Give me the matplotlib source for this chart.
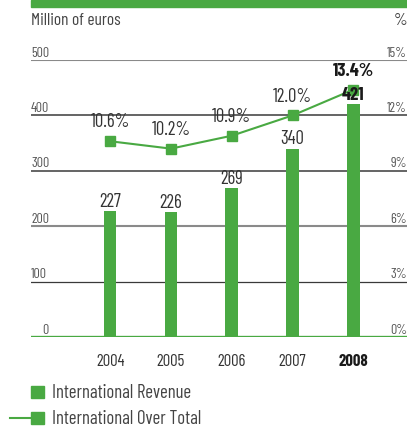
import matplotlib.pyplot as plt
from matplotlib.patches import Rectangle
from matplotlib.lines import Line2D

plt.rcParams['font.family'] = ['Barlow Condensed', 'Roboto Condensed', 'DejaVu Sans']

years = ['2004', '2005', '2006', '2007', '2008']
revenue = [227, 226, 269, 340, 421]
share = [10.6, 10.2, 10.9, 12.0, 13.4]
left_ticks = [0, 100, 200, 300, 400, 500]
right_ticks = [0, 3, 6, 9, 12, 15]

green = '#49a942'
text_col = '#333333'
dark = '#1a1a1a'

W, H = 407, 428
fig = plt.figure(figsize=(W / 100, H / 100), dpi=100)
ax = fig.add_axes([31 / W, 1 - 337 / H, 1 - 31 / W, (337 - 60) / H])
ax2 = ax.twinx()

x = list(range(len(years)))
ax.set_xlim(-1.3, 4.88)
ax.set_ylim(0, 500)
ax2.set_ylim(0, 15)

# horizontal rules, alternating grey tones, green base line
rule_cols = [green, '#3a3a3a', '#8a8a8a', '#3a3a3a', '#3a3a3a', '#8a8a8a']
rule_lw = [2.4, 0.9, 1.5, 1.1, 1.1, 1.5]
for t, c, lw in zip(left_ticks, rule_cols, rule_lw):
    ax.axhline(t, color=c, lw=lw, zorder=1 if t else 4)

ax.bar(x, revenue, width=0.21, color=green, zorder=3)
ax2.plot(x, share, color=green, lw=1.5, marker='s', markersize=7.5, zorder=5)

last = len(years) - 1
for i, v in enumerate(revenue):
    b = i == last
    ax2.annotate(str(v), (i, v), xycoords=ax.transData, xytext=(0, 3),
                 textcoords='offset points', ha='center', va='baseline',
                 fontsize=13.5, color=dark if b else text_col,
                 fontweight='bold' if b else 'normal', zorder=6)
    ax.text(i, -29 / 277, years[i], transform=ax.get_xaxis_transform(),
            ha='center', va='baseline', fontsize=12, color=dark if b else text_col,
            fontweight='bold' if b else 'normal')

for i, s in enumerate(share):
    b = i == last
    ax2.annotate(f'{s:.1f}%', (i, s), xytext=(0, 10), textcoords='offset points',
                 ha='center', va='baseline', fontsize=13.5, color=dark if b else text_col,
                 fontweight='bold' if b else 'normal', zorder=6)

for t in left_ticks:
    ax.text(0 if t else 11 / 376, t + 6, str(t), transform=ax.get_yaxis_transform(),
            ha='left', va='baseline', fontsize=10, color='#555555')
for t in right_ticks:
    ax2.text(1, t + 0.18, f'{t}%', transform=ax2.get_yaxis_transform(),
             ha='right', va='baseline', fontsize=10, color='#555555')

for a in (ax, ax2):
    a.set_xticks([])
    a.set_yticks([])
    for sp in a.spines.values():
        sp.set_visible(False)
    a.patch.set_visible(False)

# green band on top and the unit labels
fig.patches.append(Rectangle((31 / W, 1 - 7 / H), 1, 7 / H,
                             transform=fig.transFigure, color=green))
fig.text(31 / W, 1 - 25 / H, 'Million of euros', ha='left', va='baseline',
         fontsize=12.5, color='#444444')
fig.text(1.0, 1 - 25 / H, '%', ha='right', va='baseline', fontsize=12.5, color='#444444')

# legend
fig.patches.append(Rectangle((31 / W, 1 - 398 / H), 13 / W, 12 / H,
                             transform=fig.transFigure, color=green))
fig.text(52 / W, 1 - 397.5 / H, 'International Revenue', ha='left', va='baseline',
         fontsize=13.5, color='#444444')
fig.add_artist(Line2D([10 / W, 34 / W], [1 - 418 / H, 1 - 418 / H],
                      color=green, lw=1.5, transform=fig.transFigure))
fig.patches.append(Rectangle((31 / W, 1 - 424 / H), 13 / W, 12 / H,
                             transform=fig.transFigure, color=green))
fig.text(52 / W, 1 - 423.5 / H, 'International Over Total', ha='left', va='baseline',
         fontsize=13.5, color='#444444')

fig.savefig('out.png', dpi=100)
